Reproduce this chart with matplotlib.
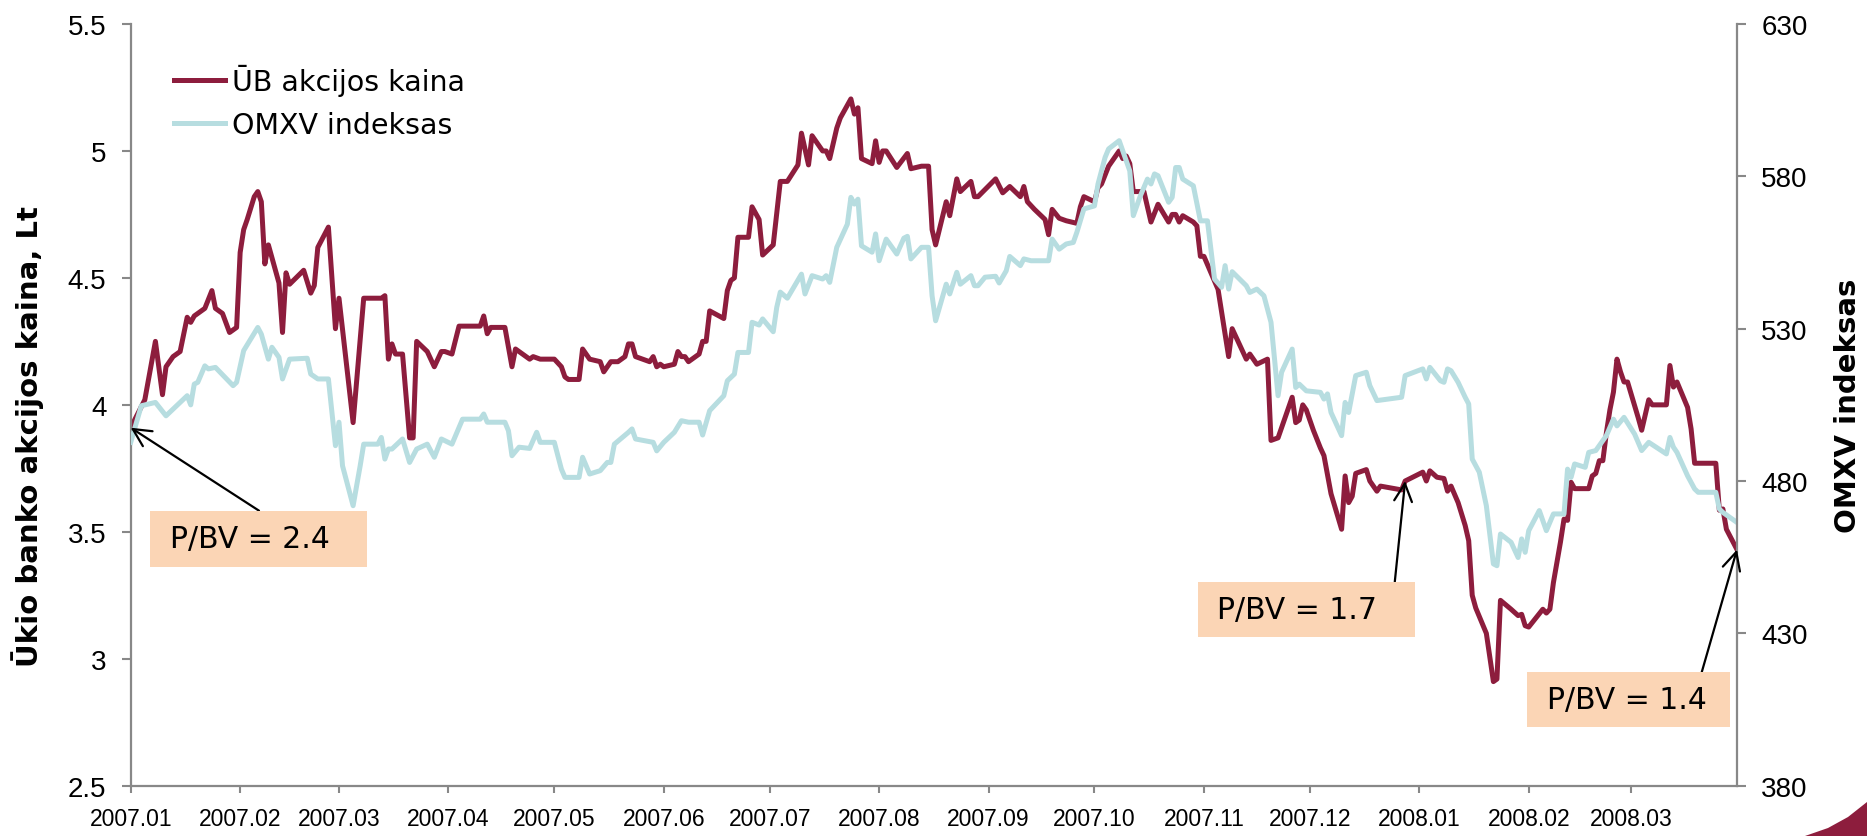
import matplotlib
matplotlib.use("Agg")
import matplotlib.pyplot as plt
import matplotlib.dates as mdates
from matplotlib.patches import Rectangle, Polygon
import pandas as pd

# ---------------- data ----------------
START = "2007-01-01"
END_DAY = 455  # 2008-03-31

ub_day = [0, 4, 7, 9, 10, 12, 14, 16, 17, 18, 21, 23, 24, 26, 28, 30, 31, 32, 33, 35, 36, 37, 38, 39,
          42, 43, 44, 45, 49, 51, 52, 53, 56, 58, 59, 63, 66, 71, 72, 73, 74, 75, 77, 79, 80, 81, 84, 86,
          88, 89, 91, 93, 99, 100, 101, 102, 106, 108, 109, 112, 113, 114, 116, 120, 122, 123, 124, 127,
          128, 130, 133, 134, 136, 138, 140, 141, 142, 143, 145, 147, 148, 149, 150, 151, 154, 155, 156,
          157, 158, 161, 162, 163, 164, 168, 169, 170, 171, 172, 175, 176, 178, 179, 182, 184, 186, 189,
          190, 192, 193, 196, 197, 198, 200, 201, 204, 205, 206, 207, 210, 211, 212, 213, 214, 217, 220,
          221, 224, 226, 227, 228, 231, 232, 234, 235, 238, 239, 240, 245, 247, 249, 252, 253, 254, 256,
          259, 260, 261, 263, 265, 268, 269, 270, 273, 274, 275, 277, 280, 281, 282, 283, 284, 287, 289,
          291, 294, 295, 296, 297, 298, 301, 302, 303, 304, 308, 311, 312, 316, 317, 319, 322, 323, 325,
          329, 330, 331, 332, 333, 335, 337, 338, 340, 343, 344, 345, 346, 347, 350, 351, 353, 354, 360,
          361, 366, 367, 368, 370, 372, 373, 374, 376, 378, 379, 380, 381, 384, 386, 387, 388, 391, 393,
          394, 395, 396, 400, 401, 402, 403, 405, 406, 407, 408, 409, 413, 414, 415, 416, 417, 418, 419,
          420, 421, 422, 423, 424, 427, 428, 430, 431, 435, 436, 437, 438, 441, 442, 443, 449, 450, 451,
          452, 455]
ub_price = [3.91, 4.02, 4.25, 4.04, 4.15, 4.19, 4.21, 4.345, 4.325, 4.35, 4.38, 4.45, 4.38, 4.36, 4.285,
            4.305, 4.60, 4.69, 4.73, 4.82, 4.84, 4.80, 4.555, 4.63, 4.48, 4.285, 4.52, 4.475, 4.53, 4.44,
            4.47, 4.62, 4.70, 4.30, 4.42, 3.93, 4.42, 4.42, 4.43, 4.18, 4.24, 4.20, 4.20, 3.87, 3.87, 4.25,
            4.21, 4.15, 4.21, 4.21, 4.20, 4.31, 4.31, 4.35, 4.28, 4.305, 4.305, 4.15, 4.22, 4.19, 4.18,
            4.19, 4.18, 4.18, 4.15, 4.11, 4.10, 4.10, 4.22, 4.18, 4.17, 4.13, 4.17, 4.17, 4.19, 4.24, 4.24,
            4.19, 4.18, 4.17, 4.19, 4.15, 4.16, 4.15, 4.16, 4.21, 4.19, 4.19, 4.17, 4.20, 4.25, 4.25, 4.37,
            4.34, 4.45, 4.49, 4.50, 4.66, 4.66, 4.78, 4.73, 4.59, 4.63, 4.88, 4.88, 4.945, 5.07, 4.945,
            5.06, 5.00, 5.00, 4.97, 5.09, 5.13, 5.205, 5.145, 5.17, 4.97, 4.95, 5.04, 4.955, 5.00, 5.00,
            4.935, 4.99, 4.93, 4.94, 4.94, 4.69, 4.63, 4.80, 4.745, 4.89, 4.84, 4.88, 4.82, 4.82, 4.89,
            4.835, 4.86, 4.82, 4.86, 4.80, 4.77, 4.73, 4.67, 4.77, 4.735, 4.725, 4.715, 4.78, 4.82, 4.80,
            4.855, 4.87, 4.94, 5.00, 4.97, 4.98, 4.95, 4.84, 4.84, 4.72, 4.79, 4.72, 4.75, 4.75, 4.72,
            4.745, 4.72, 4.705, 4.585, 4.585, 4.455, 4.19, 4.30, 4.18, 4.20, 4.16, 4.18, 3.86, 3.87, 4.03,
            3.93, 3.94, 4.00, 3.98, 3.90, 3.83, 3.80, 3.65, 3.51, 3.72, 3.615, 3.64, 3.73, 3.745, 3.70,
            3.66, 3.68, 3.665, 3.70, 3.735, 3.70, 3.74, 3.715, 3.71, 3.66, 3.68, 3.615, 3.525, 3.465, 3.25,
            3.20, 3.10, 2.91, 2.92, 3.23, 3.195, 3.17, 3.175, 3.13, 3.125, 3.195, 3.18, 3.195, 3.30, 3.46,
            3.55, 3.545, 3.695, 3.67, 3.67, 3.72, 3.73, 3.78, 3.78, 3.89, 3.98, 4.05, 4.18, 4.13, 4.09,
            4.09, 3.95, 3.90, 4.02, 4.00, 4.00, 4.155, 4.07, 4.09, 3.99, 3.905, 3.77, 3.77, 3.585, 3.59,
            3.51, 3.43]

omxv_day = [0, 3, 7, 10, 12, 16, 17, 18, 19, 21, 22, 24, 29, 30, 32, 36, 37, 39, 40, 42, 43, 45, 50, 51,
            53, 56, 58, 59, 60, 63, 65, 66, 70, 71, 72, 73, 74, 77, 79, 81, 84, 86, 88, 91, 94, 99, 100,
            101, 106, 107, 108, 110, 113, 115, 116, 120, 122, 123, 127, 128, 130, 133, 135, 136, 137, 141,
            142, 143, 148, 149, 151, 154, 156, 158, 161, 162, 164, 168, 169, 171, 172, 175, 176, 178, 179,
            182, 183, 184, 186, 190, 191, 193, 196, 197, 198, 200, 203, 204, 205, 206, 207, 210, 211, 212,
            214, 217, 219, 220, 221, 224, 226, 227, 228, 231, 232, 234, 235, 238, 239, 240, 242, 245, 246,
            248, 249, 252, 253, 255, 260, 261, 263, 265, 267, 268, 270, 273, 274, 276, 277, 280, 283, 284,
            286, 288, 289, 290, 291, 294, 295, 296, 297, 298, 301, 303, 305, 307, 309, 310, 311, 312, 316,
            317, 319, 321, 323, 325, 326, 329, 330, 331, 333, 337, 338, 339, 340, 343, 344, 345, 347, 350,
            351, 353, 360, 361, 366, 367, 368, 371, 372, 373, 374, 376, 378, 379, 380, 382, 384, 386, 387,
            388, 391, 393, 394, 395, 396, 399, 401, 403, 406, 407, 408, 409, 412, 413, 415, 418, 420, 421,
            423, 426, 428, 430, 435, 436, 437, 438, 441, 443, 444, 449, 450, 451, 455]
omxv_index = [492.7, 504.7, 505.8, 501.4, 503.6, 508.0, 505.0, 511.8, 512.4, 517.8, 516.8, 517.3, 511.3,
              512.4, 522.8, 530.4, 528.2, 520.0, 523.9, 520.6, 513.5, 520.0, 520.3, 515.1, 513.5, 513.5,
              491.6, 499.3, 485.0, 471.9, 485.0, 492.1, 492.1, 494.3, 487.2, 490.5, 490.5, 493.8, 486.1,
              490.5, 492.1, 487.8, 493.8, 492.1, 500.3, 500.3, 502.0, 499.3, 499.3, 496.5, 488.3, 491.1,
              490.7, 496.0, 492.7, 492.7, 483.9, 481.2, 481.2, 487.8, 482.3, 483.4, 486.1, 486.1, 492.1,
              496.0, 497.1, 493.8, 492.7, 489.9, 492.7, 496.0, 499.8, 499.3, 499.3, 495.1, 503.1, 508.0,
              512.9, 515.1, 522.2, 522.2, 532.1, 531.2, 533.2, 529.0, 537.0, 542.0, 540.0, 547.9, 541.4,
              547.4, 546.3, 547.4, 545.2, 556.7, 564.3, 573.1, 570.9, 572.5, 557.2, 555.1, 561.1, 552.3,
              559.4, 554.5, 559.7, 560.3, 552.9, 556.7, 556.7, 540.8, 532.6, 544.6, 541.4, 548.5, 544.6,
              547.4, 544.1, 544.1, 546.9, 547.2, 545.0, 549.0, 553.7, 550.7, 552.9, 552.3, 552.3, 559.4,
              556.1, 557.8, 558.3, 561.6, 569.3, 570.3, 577.5, 586.2, 589.0, 591.7, 581.8, 567.1, 573.6,
              579.1, 577.5, 580.8, 580.2, 571.5, 573.1, 582.9, 582.9, 579.1, 576.9, 565.4, 565.4, 546.3,
              543.6, 550.7, 543.0, 548.7, 544.1, 541.9, 543.0, 540.8, 532.1, 508.0, 515.7, 523.3, 510.7,
              511.8, 509.6, 509.1, 506.9, 508.6, 502.5, 494.9, 505.8, 502.5, 514.6, 515.7, 511.3, 506.4,
              507.5, 514.6, 516.8, 513.5, 517.3, 512.9, 512.4, 516.8, 516.2, 512.4, 507.5, 505.3, 487.2,
              482.9, 471.9, 452.8, 452.2, 462.6, 459.9, 454.9, 461.0, 456.6, 463.7, 470.3, 463.7, 469.2,
              469.2, 483.9, 481.2, 485.6, 484.5, 489.4, 490.0, 494.9, 500.3, 498.1, 500.9, 495.4, 490.0,
              492.7, 488.9, 494.3, 491.1, 489.4, 481.7, 477.4, 476.3, 476.3, 470.8, 469.7, 466.4]

month_ticks = pd.date_range("2007-01-01", "2008-03-01", freq="MS")
month_labels = [d.strftime("%Y.%m") for d in month_ticks]

left_ticks = [2.5, 3, 3.5, 4, 4.5, 5, 5.5]
left_labels = ["2.5", "3", "3.5", "4", "4.5", "5", "5.5"]
right_ticks = [380, 430, 480, 530, 580, 630]

series_names = ["ŪB akcijos kaina", "OMXV indeksas"]
pbv_labels = ["P/BV = 2.4", "P/BV = 1.7", "P/BV = 1.4"]
pbv_point_index = [0, ub_day.index(361), len(ub_day) - 1]

# ---------------- style / layout ----------------
W, H = 1867, 837
RED = "#8D1D3D"
BLUE = "#B7DDE0"
GREY = "#888888"
BOX = "#FBD5B5"
TICK_FONT = "Liberation Sans"
TEXT_FONT = "DejaVu Sans"


def fx(px):
    return px / W


def fy(py):
    return 1 - py / H


base = pd.Timestamp(START)
ub_dates = base + pd.to_timedelta(ub_day, unit="D")
omxv_dates = base + pd.to_timedelta(omxv_day, unit="D")
ub_num = mdates.date2num(ub_dates.to_pydatetime())

fig = plt.figure(figsize=(W / 100, H / 100), dpi=100)
ax = fig.add_axes([fx(130.7), fy(786.7), fx(1737) - fx(130.7), fy(25) - fy(786.7)])
ax2 = ax.twinx()

l1, = ax.plot(ub_dates, ub_price, color=RED, lw=3.6, solid_joinstyle="round", zorder=2)
l2, = ax2.plot(omxv_dates, omxv_index, color=BLUE, lw=3.6, solid_joinstyle="round", zorder=2)

ax.set_xlim(base, base + pd.Timedelta(days=END_DAY))
ax.set_ylim(2.5, 5.5)
ax2.set_ylim(380, 630)

ax.set_xticks(month_ticks)
ax.set_xticklabels(month_labels, fontfamily=TICK_FONT, fontsize=16.5)
ax.set_yticks(left_ticks)
ax.set_yticklabels(left_labels, fontfamily=TICK_FONT, fontsize=20)
ax2.set_yticks(right_ticks)
ax2.set_yticklabels([str(v) for v in right_ticks], fontfamily=TICK_FONT, fontsize=20)

for a in (ax, ax2):
    for s in a.spines.values():
        s.set_color(GREY)
        s.set_linewidth(1.6)
    a.spines["top"].set_visible(False)
ax.spines["right"].set_visible(False)
ax2.spines["left"].set_visible(False)
ax2.spines["bottom"].set_visible(False)

ax.tick_params(axis="x", direction="out", length=5, width=1.5, color=GREY, pad=10)
ax.tick_params(axis="y", direction="out", length=6.5, width=1.5, color=GREY, pad=11)
ax2.tick_params(axis="y", direction="out", length=6.5, width=1.5, color=GREY, pad=11)

fig.text(fx(28), fy(437), "Ūkio banko akcijos kaina, Lt", rotation=90, ha="center", va="center",
         fontfamily=TEXT_FONT, fontweight="bold", fontsize=21)
fig.text(fx(1848), fy(406), "OMXV indeksas", rotation=90, ha="center", va="center",
         fontfamily=TEXT_FONT, fontweight="bold", fontsize=21)

leg = ax2.legend([l1, l2], series_names, loc="upper left", bbox_to_anchor=(0.027, 0.948),
                 frameon=False, prop={"family": TEXT_FONT, "size": 20.5}, handlelength=1.8,
                 handletextpad=0.25, labelspacing=0.55, borderpad=0, borderaxespad=0)

# P/BV boxes: (left, top, right, bottom) in pixels, text left x, arrow start
boxes = [(149.5, 511.7, 367.4, 567.7), (1198, 582.7, 1415, 637.7), (1527.4, 673.3, 1730, 728.3)]
text_x = [169.6, 1217, 1547]
arrow_from = [(259, 511.7), (1394.8, 582.7), (1701.7, 673.3)]

for (x0, y0, x1, y1), tx, (ax0, ay0), lab, pi in zip(boxes, text_x, arrow_from, pbv_labels, pbv_point_index):
    fig.patches.append(Rectangle((fx(x0), fy(y1)), fx(x1) - fx(x0), fy(y0) - fy(y1),
                                 transform=fig.transFigure, facecolor=BOX, edgecolor="none", zorder=5))
    fig.text(fx(tx), fy((y0 + y1) / 2), lab, ha="left", va="center", fontfamily=TEXT_FONT,
             fontsize=21.5, zorder=6)
    ax2.annotate("", xy=(ub_num[pi], ub_price[pi]), xycoords=ax.transData,
                 xytext=(fx(ax0), fy(ay0)), textcoords="figure fraction",
                 arrowprops=dict(arrowstyle="->", color="black", lw=1.6, mutation_scale=32,
                                 shrinkA=0, shrinkB=0), annotation_clip=False, zorder=7)

# decorative corner swoosh
swoosh = Polygon([(fx(1805), fy(837)), (fx(1828), fy(829)), (fx(1848), fy(818)), (fx(1867), fy(803)),
                  (fx(1867), fy(837))], closed=True, transform=fig.transFigure,
                 facecolor=RED, edgecolor="none")
fig.patches.append(swoosh)

fig.savefig("out.png", dpi=100, facecolor="white")
